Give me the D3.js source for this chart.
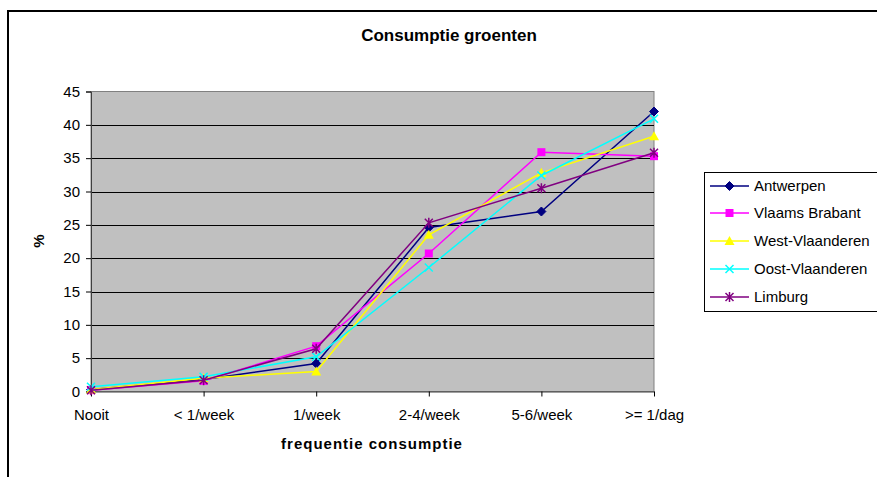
<!DOCTYPE html>
<html><head><meta charset="utf-8">
<script src="https://cdn.jsdelivr.net/npm/d3@7"></script>
<style>html,body{margin:0;padding:0;background:#fff;overflow:hidden}text{font-family:"Liberation Sans",Arial,sans-serif}</style>
</head><body><svg id="c" width="877" height="477"></svg>
<script>
const categories = ["Nooit", "< 1/week", "1/week", "2-4/week", "5-6/week", ">= 1/dag"];
const seriesNames = ["Antwerpen", "Vlaams Brabant", "West-Vlaanderen", "Oost-Vlaanderen", "Limburg"];
const antwerpen = [0.3, 1.8, 4.2, 24.6, 27.0, 42.0];
const vlaamsBrabant = [0.2, 1.6, 6.8, 20.7, 35.9, 35.3];
const westVlaanderen = [0.3, 2.0, 3.0, 23.5, 32.8, 38.3];
const oostVlaanderen = [0.7, 2.2, 5.2, 18.6, 32.4, 40.9];
const limburg = [0.2, 1.7, 6.4, 25.3, 30.5, 35.8];
const yTicks = [0, 5, 10, 15, 20, 25, 30, 35, 40, 45];
const colors = ["#000080", "#FF00FF", "#FFFF00", "#00FFFF", "#800080"];
const markers = ["diamond", "square", "triangle", "x", "star"];
const values = [antwerpen, vlaamsBrabant, westVlaanderen, oostVlaanderen, limburg];

const svg = d3.select("#c");
const L = 91, R = 654, T = 91.5, B = 391.5;
const x = d3.scalePoint().domain(categories).range([L, R]).padding(0);
const y = d3.scaleLinear().domain([0, 45]).range([B, T]);
const FONT = "Liberation Sans, Arial, sans-serif";

// outer chart border
svg.append("rect").attr("x", 8).attr("y", 11).attr("width", 900).attr("height", 500)
  .attr("fill", "none").attr("stroke", "#000").attr("stroke-width", 2);

// title
svg.append("text").attr("x", 449).attr("y", 41).attr("text-anchor", "middle")
  .attr("font-size", 17).attr("font-weight", "bold").text("Consumptie groenten");

// plot area
svg.append("rect").attr("x", L).attr("y", T).attr("width", R - L).attr("height", B - T)
  .attr("fill", "#C0C0C0").attr("stroke", "#808080").attr("stroke-width", 1);

// gridlines
svg.append("g").selectAll("line").data(yTicks.filter(d => d > 0 && d < 45)).join("line")
  .attr("x1", L).attr("x2", R).attr("y1", d => Math.round(y(d)) + 0.5).attr("y2", d => Math.round(y(d)) + 0.5)
  .attr("stroke", "#000").attr("stroke-width", 1);

// y axis
const yAxis = d3.axisLeft(y).tickValues(yTicks).tickSize(5).tickPadding(6);
const gy = svg.append("g").attr("transform", `translate(${L},0)`).call(yAxis);
gy.attr("font-size", 15).attr("font-family", FONT);
gy.select(".domain").attr("stroke", "#404040");
gy.selectAll("text").attr("font-size", 15).attr("fill", "#000");

// x axis
const xAxis = d3.axisBottom(x).tickSize(5).tickPadding(13).tickSizeOuter(0);
const gx = svg.append("g").attr("transform", `translate(0,${B})`).call(xAxis);
gx.attr("font-size", 15).attr("font-family", FONT);
gx.select(".domain").attr("stroke", "#404040");
gx.selectAll("text").attr("font-size", 15).attr("fill", "#000");

// axis titles
svg.append("text").attr("x", 372).attr("y", 449).attr("text-anchor", "middle")
  .attr("font-size", 15).attr("font-weight", "bold").attr("letter-spacing", 1).text("frequentie consumptie");
svg.append("text").attr("transform", "translate(44,241) rotate(-90)").attr("text-anchor", "middle")
  .attr("font-size", 15).attr("font-weight", "bold").text("%");

function drawMarker(g, type, color, cx, cy) {
  const s = 4;
  if (type === "diamond") {
    g.append("path").attr("d", `M${cx},${cy - s - 0.5}L${cx + s + 0.5},${cy}L${cx},${cy + s + 0.5}L${cx - s - 0.5},${cy}Z`).attr("fill", color).attr("stroke", color);
  } else if (type === "square") {
    g.append("rect").attr("x", cx - s).attr("y", cy - s).attr("width", 2 * s).attr("height", 2 * s).attr("fill", color);
  } else if (type === "triangle") {
    g.append("path").attr("d", `M${cx},${cy - s - 1}L${cx + s + 1},${cy + s}L${cx - s - 1},${cy + s}Z`).attr("fill", color);
  } else if (type === "x") {
    g.append("path").attr("d", `M${cx - s},${cy - s}L${cx + s},${cy + s}M${cx - s},${cy + s}L${cx + s},${cy - s}`).attr("stroke", color).attr("stroke-width", 1.5);
  } else {
    g.append("path").attr("d", `M${cx - s},${cy - s}L${cx + s},${cy + s}M${cx - s},${cy + s}L${cx + s},${cy - s}M${cx},${cy - s - 1}L${cx},${cy + s + 1}`).attr("stroke", color).attr("stroke-width", 1.5);
  }
}

const line = d3.line().x((d, i) => x(categories[i])).y(d => y(d));
values.forEach((vals, si) => {
  const g = svg.append("g");
  g.append("path").datum(vals).attr("d", line).attr("fill", "none").attr("stroke", colors[si]).attr("stroke-width", 1.5);
  vals.forEach((v, i) => drawMarker(g, markers[si], colors[si], x(categories[i]), y(v)));
});

// legend
svg.append("rect").attr("x", 704.5).attr("y", 172.5).attr("width", 200).attr("height", 139)
  .attr("fill", "#fff").attr("stroke", "#000").attr("stroke-width", 1);
const ly = [186, 213, 241, 269, 297];
seriesNames.forEach((n, i) => {
  const g = svg.append("g");
  g.append("line").attr("x1", 710).attr("x2", 749).attr("y1", ly[i]).attr("y2", ly[i]).attr("stroke", colors[i]).attr("stroke-width", 1.5);
  drawMarker(g, markers[i], colors[i], 729.5, ly[i]);
  g.append("text").attr("x", 754).attr("y", ly[i] + 5).attr("font-size", 15).text(n);
});
</script></body></html>
